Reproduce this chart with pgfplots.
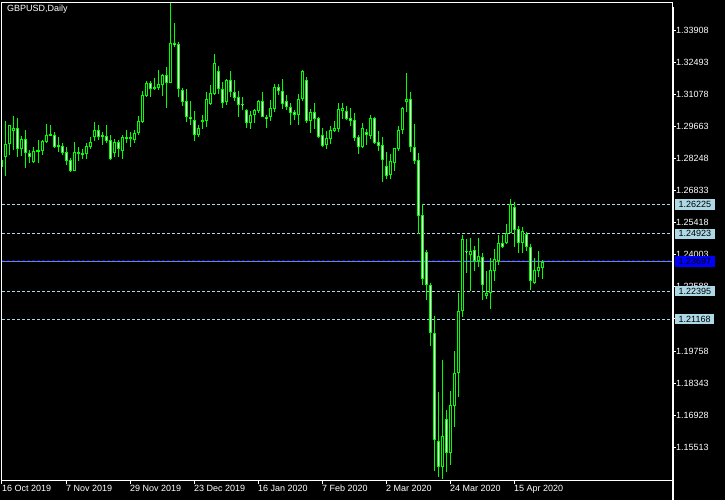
\documentclass[border=0pt]{standalone}
\usepackage{pgfplots}
\pgfplotsset{compat=1.18}
\usepackage{pgfplotstable}
\usepackage{fontspec}
\setmainfont{Liberation Sans}
\definecolor{mtlime}{RGB}{0,255,0}
\definecolor{lvl}{RGB}{173,216,230}
\definecolor{bidgray}{RGB}{119,136,153}
\definecolor{mtblue}{RGB}{0,0,255}
\tikzset{lvlbox/.style={anchor=west, xshift=3pt, fill=lvl, text=black, inner xsep=3.5pt, inner ysep=0pt, minimum height=10.5pt, font=\fontsize{9}{10}\selectfont}}

\pgfplotstableread{
x O H L C
0 1.28177 1.28398 1.27736 1.27869
1 1.28309 1.29896 1.27472 1.28882
2 1.28882 1.29720 1.28398 1.29720
3 1.29456 1.30117 1.28618 1.29588
4 1.29588 1.30029 1.28309 1.28662
5 1.28662 1.29235 1.28354 1.29103
6 1.29103 1.29500 1.27825 1.28486
7 1.28486 1.28618 1.28045 1.28309
8 1.28089 1.28750 1.28045 1.28574
9 1.28618 1.29059 1.28045 1.28530
10 1.28574 1.29059 1.28398 1.29015
11 1.28971 1.29764 1.28927 1.29279
12 1.29323 1.29720 1.29235 1.29235
13 1.29279 1.29411 1.28706 1.28750
14 1.28838 1.29191 1.28530 1.28750
15 1.28794 1.28927 1.28398 1.28486
16 1.28530 1.28750 1.27957 1.28133
17 1.28177 1.28265 1.27648 1.27692
18 1.27692 1.28971 1.27692 1.28530
19 1.28442 1.28750 1.28133 1.28530
20 1.28486 1.28662 1.28221 1.28398
21 1.28442 1.28927 1.28221 1.28794
22 1.28750 1.29191 1.28662 1.28971
23 1.29191 1.29852 1.29015 1.29500
24 1.29500 1.29720 1.29059 1.29191
25 1.29279 1.29411 1.28838 1.29191
26 1.29235 1.29720 1.28927 1.29015
27 1.29059 1.29279 1.28177 1.28221
28 1.28486 1.29103 1.28309 1.28971
29 1.28971 1.29059 1.28309 1.28662
30 1.28574 1.29279 1.28221 1.29191
31 1.29191 1.29500 1.28927 1.29103
32 1.29103 1.29411 1.28750 1.29191
33 1.29059 1.29500 1.28927 1.29367
34 1.29367 1.30117 1.29279 1.29896
35 1.29852 1.31219 1.29808 1.31042
36 1.30998 1.31660 1.30954 1.31571
37 1.31571 1.31660 1.30954 1.31307
38 1.31307 1.31792 1.31263 1.31395
39 1.31351 1.32144 1.31263 1.31527
40 1.31483 1.31968 1.30998 1.31924
41 1.31924 1.32277 1.30469 1.31571
42 1.31571 1.35098 1.31571 1.33335
43 1.33335 1.34216 1.33158 1.33246
44 1.33290 1.33379 1.30954 1.31307
45 1.31263 1.31351 1.30558 1.30734
46 1.30778 1.31307 1.29852 1.30073
47 1.30073 1.30778 1.29720 1.29984
48 1.29940 1.30337 1.29015 1.29279
49 1.29279 1.29720 1.29191 1.29588
50 1.29852 1.30161 1.29544 1.29940
51 1.29896 1.31175 1.29632 1.30866
52 1.30646 1.31483 1.30602 1.31131
53 1.31086 1.32850 1.31042 1.32453
54 1.32100 1.32321 1.31086 1.31307
55 1.31307 1.31615 1.30469 1.30690
56 1.30734 1.31748 1.30602 1.31704
57 1.31704 1.32100 1.30954 1.31175
58 1.31175 1.31704 1.30778 1.30910
59 1.30954 1.31219 1.30073 1.30602
60 1.30646 1.30954 1.30381 1.30602
61 1.30381 1.30425 1.29588 1.29808
62 1.29808 1.30337 1.29544 1.30161
63 1.30161 1.30425 1.29808 1.30381
64 1.30337 1.30822 1.30249 1.30778
65 1.30778 1.31175 1.30073 1.30073
66 1.30073 1.30161 1.29588 1.29984
67 1.30073 1.30822 1.29896 1.30469
68 1.30425 1.31527 1.30293 1.31395
69 1.31395 1.31527 1.31042 1.31219
70 1.31219 1.31748 1.30425 1.30646
71 1.30778 1.31042 1.30381 1.30513
72 1.30513 1.30690 1.29720 1.30249
73 1.30293 1.30381 1.29940 1.30161
74 1.30161 1.31086 1.29720 1.30866
75 1.30866 1.32144 1.30778 1.32100
76 1.31704 1.31836 1.29808 1.29896
77 1.29896 1.30425 1.29367 1.30293
78 1.30293 1.30690 1.29544 1.29984
79 1.30029 1.30073 1.29147 1.29191
80 1.29279 1.29588 1.28750 1.28794
81 1.28838 1.29456 1.28662 1.29147
82 1.29103 1.29676 1.28882 1.29500
83 1.29456 1.29896 1.29411 1.29588
84 1.29544 1.30690 1.29411 1.30425
85 1.30337 1.30690 1.29984 1.30469
86 1.30337 1.30558 1.29940 1.29984
87 1.30029 1.30469 1.29676 1.29896
88 1.29940 1.30249 1.29015 1.29147
89 1.29191 1.29279 1.28442 1.28750
90 1.28750 1.29808 1.28706 1.29588
91 1.29411 1.29544 1.28838 1.29279
92 1.29235 1.30161 1.29103 1.30029
93 1.30029 1.30073 1.28882 1.28927
94 1.28971 1.29456 1.28574 1.28794
95 1.28838 1.29191 1.27207 1.28177
96 1.27913 1.28530 1.27340 1.27472
97 1.27516 1.28442 1.27340 1.28133
98 1.28045 1.28706 1.27692 1.28706
99 1.28662 1.29676 1.28574 1.29500
100 1.29500 1.30513 1.29323 1.30469
101 1.30734 1.32012 1.30293 1.30866
102 1.30866 1.31175 1.28530 1.28750
103 1.28750 1.29764 1.28001 1.28133
104 1.28177 1.28486 1.24915 1.25709
105 1.25753 1.26238 1.22667 1.22932
106 1.24122 1.24210 1.22006 1.22667
107 1.22667 1.22755 1.19978 1.20551
108 1.20551 1.21301 1.14468 1.15835
109 1.15791 1.17951 1.14204 1.14645
110 1.14645 1.19361 1.14116 1.16011
111 1.16760 1.17157 1.14424 1.15262
112 1.15262 1.17995 1.14733 1.17378
113 1.17334 1.19758 1.16408 1.18788
114 1.18788 1.22315 1.17730 1.21521
115 1.21521 1.24871 1.21257 1.24695
116 1.24166 1.24695 1.23196 1.24122
117 1.23990 1.24739 1.22403 1.24166
118 1.24210 1.24386 1.23284 1.23725
119 1.23725 1.24739 1.23461 1.23946
120 1.23901 1.24078 1.22006 1.22667
121 1.22182 1.23284 1.22050 1.22315
122 1.22315 1.23857 1.21609 1.23328
123 1.23284 1.24254 1.22844 1.23813
124 1.23725 1.24871 1.23549 1.24519
125 1.24519 1.24871 1.24298 1.24342
126 1.24519 1.25356 1.24474 1.24959
127 1.24959 1.26458 1.24959 1.26238
128 1.26105 1.26326 1.24342 1.25092
129 1.25136 1.25268 1.24078 1.24519
130 1.24519 1.25224 1.24078 1.25048
131 1.24915 1.25003 1.24166 1.24342
132 1.24342 1.24474 1.22447 1.22844
133 1.22755 1.23857 1.22711 1.23328
134 1.23284 1.24166 1.23020 1.23461
135 1.23417 1.23769 1.22932 1.23697
}\candles

\begin{document}
\begin{tikzpicture}[x=1pt,y=1pt]
\fill[black] (0,0) rectangle (725,500);
\useasboundingbox (0,0) rectangle (725,500);
\node[anchor=north west, inner sep=0pt, text=white, font=\fontsize{9}{10}\selectfont] at (7,495) {GBPUSD,Daily};
\begin{axis}[
  at={(2pt,20pt)}, anchor=south west,
  scale only axis, width=670pt, height=478pt,
  xmin=0, xmax=167.5, ymin=1.14072, ymax=1.35142,
  clip mode=individual,
  axis line style={white, line width=1pt},
  tick style={white, line width=1pt},
  tick align=outside, major tick length=4pt,
  xtick pos=bottom, ytick pos=right,
  yticklabel pos=right,
  xtick={0,16,32,48,64,80,96,112,128},
  xticklabels={16 Oct 2019, 7 Nov 2019, 29 Nov 2019, 23 Dec 2019, 16 Jan 2020, 7 Feb 2020, 2 Mar 2020, 24 Mar 2020, 15 Apr 2020},
  ytick={1.15513,1.16928,1.18343,1.19758,1.21173,1.22588,1.24003,1.25418,1.26833,1.28248,1.29663,1.31078,1.32493,1.33908},
  yticklabels={1.15513,1.16928,1.18343,1.19758,{},1.22588,1.24003,1.25418,1.26833,1.28248,1.29663,1.31078,1.32493,1.33908},
  ticklabel style={text=white, font=\fontsize{9}{10}\selectfont, inner sep=0pt},
  xticklabel style={anchor=north west, yshift=-1pt},
  yticklabel style={anchor=west},
]
% level lines
\addplot[lvl, line width=1pt, dash pattern=on 3pt off 2pt, forget plot] coordinates {(0,1.26225) (167.5,1.26225)};
\addplot[lvl, line width=1pt, dash pattern=on 3pt off 2pt, forget plot] coordinates {(0,1.24923) (167.5,1.24923)};
\addplot[lvl, line width=1pt, dash pattern=on 3pt off 2pt, forget plot] coordinates {(0,1.22395) (167.5,1.22395)};
\addplot[lvl, line width=1pt, dash pattern=on 3pt off 2pt, forget plot] coordinates {(0,1.21168) (167.5,1.21168)};
\addplot[mtblue, line width=1pt, dash pattern=on 3pt off 2pt, forget plot] coordinates {(0,1.23750) (167.5,1.23750)};
\addplot[bidgray, line width=1pt, forget plot] coordinates {(0,1.23690) (167.5,1.23690)};
% wicks
\addplot[draw=none, mark=none, forget plot, error bars/.cd, y dir=plus, y explicit, error mark=none,
  error bar style={draw=mtlime, line width=1pt}]
  table[x=x, y=L, y error plus expr={\thisrow{H}-\thisrow{L}}] {\candles};
% bodies
\addplot[draw=none, mark=none, forget plot, error bars/.cd, y dir=plus, y explicit, error mark=none,
  error bar style={draw=mtlime, line width=3pt}]
  table[x=x, y expr={min(\thisrow{O},\thisrow{C})}, y error plus expr={max(abs(\thisrow{C}-\thisrow{O}),0.00044)}] {\candles};
% bear interiors
\addplot[draw=none, mark=none, forget plot, restrict expr to domain={\thisrow{O}-\thisrow{C}}{0.00001:1},
  error bars/.cd, y dir=plus, y explicit, error mark=none,
  error bar style={draw=white, line width=1pt, shorten <=1pt, shorten >=1pt}]
  table[x=x, y expr={min(\thisrow{O},\thisrow{C})}, y error plus expr={abs(\thisrow{C}-\thisrow{O})}] {\candles};
% bull interiors
\addplot[draw=none, mark=none, forget plot, restrict expr to domain={\thisrow{C}-\thisrow{O}}{0.00001:1},
  error bars/.cd, y dir=plus, y explicit, error mark=none,
  error bar style={draw=black, line width=1pt, shorten <=1pt, shorten >=1pt}]
  table[x=x, y expr={min(\thisrow{O},\thisrow{C})}, y error plus expr={abs(\thisrow{C}-\thisrow{O})}] {\candles};
% thicker price-scale line
\draw[white, line width=2pt] (rel axis cs:1,0) ++(0.5pt,0) -- ([xshift=0.5pt]rel axis cs:1,0.99);
% level boxes
\node[lvlbox] at (axis cs:167.5,1.26225) {1.26225};
\node[lvlbox] at (axis cs:167.5,1.24923) {1.24923};
\node[lvlbox, fill=mtblue] at (axis cs:167.5,1.23697) {1.23697};
\node[lvlbox] at (axis cs:167.5,1.22395) {1.22395};
\node[lvlbox] at (axis cs:167.5,1.21168) {1.21168};
\end{axis}
\end{tikzpicture}
\end{document}
